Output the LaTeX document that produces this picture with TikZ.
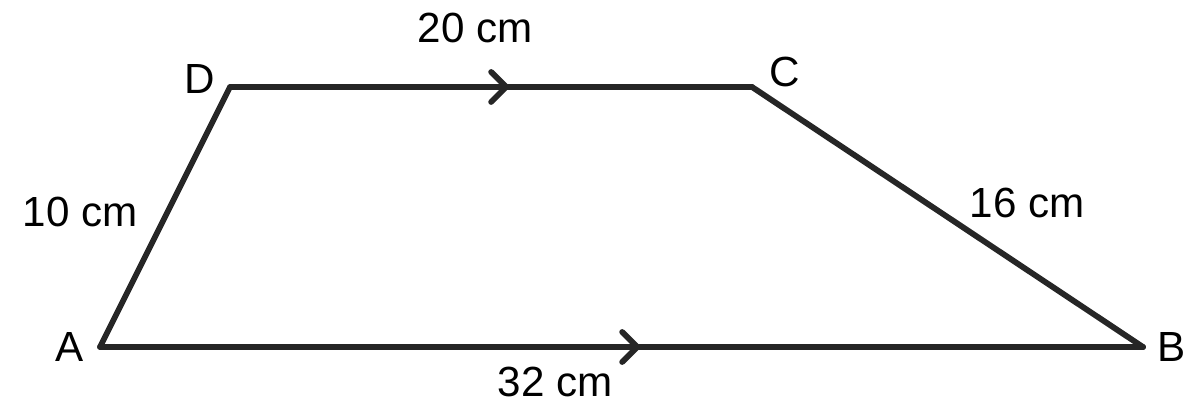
\documentclass[tikz,border=0pt]{standalone}
\usepackage{fontspec}
\setmainfont{Liberation Sans}
\usetikzlibrary{decorations.markings}

\begin{document}
\begin{tikzpicture}
	[x=0.02cm, y=-0.02cm,
	side/.style={line width=3.3pt, draw=black!85, line cap=round, line join=round},
	parallel/.style={postaction={decorate, decoration={markings, mark=at position #1 with {\draw [side] (-15,-15) -- (0,0) -- (-15,15);}}}},
	lbl/.style={font=\fontsize{24}{28}\selectfont, inner sep=0pt}]

\useasboundingbox (0,0) rectangle (1200,418);

\coordinate (A) at (100,347);
\coordinate (B) at (1143,347);
\coordinate (C) at (752,87);
\coordinate (D) at (230,87);

\draw [side] (A) -- (D) -- (C) -- (B) -- cycle;
\path [side, parallel=0.529] (D) -- (C);
\path [side, parallel=0.515] (A) -- (B);

\node [lbl] (lA) at (70,347) {A};
\node [lbl] (lB) at (1172,347) {B};
\node [lbl] (lC) at (785,72) {C};
\node [lbl] (lD) at (200,79) {D};
\node [lbl] (lDC) at (475,28) {20 cm};
\node [lbl] (lAB) at (555,382) {32 cm};
\node [lbl] (lAD) at (80,212) {10 cm};
\node [lbl] (lCB) at (1027,203) {16 cm};

\end{tikzpicture}
\end{document}
